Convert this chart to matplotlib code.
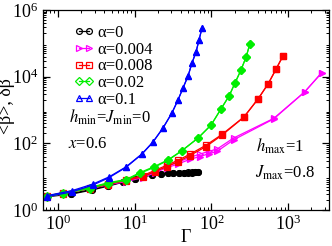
import numpy as np
import matplotlib
matplotlib.use("Agg")
import matplotlib.pyplot as plt
from matplotlib.ticker import LogLocator, NullFormatter

plt.rcParams['font.family'] = ['Liberation Serif', 'DejaVu Serif']
plt.rcParams['mathtext.fontset'] = 'stix'

# -------------------------------
# DATA
# -------------------------------
labels = ["α=0", "α=0.004", "α=0.008", "α=0.02", "α=0.1"]
colors = ["black", "#ff00ff", "#ff0000", "#00ee00", "#0000ff"]
markers = ["o", ">", "s", "D", "^"]

gamma_a0 = [0.72, 1.5, 2.8, 4.5, 7.0, 10, 13, 17, 22, 27, 32, 38, 44, 50, 56, 62, 67]
mean_a0 = [2.6, 3.1, 4.2, 5.4, 7.0, 8.8, 10.2, 11.4, 12.2, 12.7, 13.0, 13.2, 13.3, 13.4, 13.4, 13.5, 13.5]
delta_a0 = [2.5, 3.0, 4.0, 5.2, 6.8, 8.6, 10.0, 11.2, 12.0, 12.6, 12.9, 13.1, 13.2, 13.3, 13.3, 13.4, 13.4]

gamma_a1 = [0.72, 1.16, 2.6, 4.5, 7.7, 12.8, 18.4, 26.2, 36.6, 52.3, 70, 93, 118, 195, 647, 1640, 2720]
mean_a1 = [2.6, 3.3, 4.7, 6.1, 7.6, 10.2, 14.5, 20.5, 27, 38, 47, 58, 67, 145, 560, 3500, 13000]
delta_a1 = [2.5, 3.1, 4.4, 5.7, 7.1, 9.4, 13.2, 18.5, 24, 33, 40, 49, 57, 128, 540, 3500, 13000]

gamma_a2 = [0.72, 1.16, 2.6, 4.5, 7.7, 12.8, 18.4, 26.2, 36.6, 52.3, 85, 137, 265, 405, 548, 696, 855]
mean_a2 = [2.6, 3.3, 4.7, 6.2, 8.1, 10.8, 15.5, 22, 31, 47, 88, 185, 620, 2150, 6100, 17000, 42000]
delta_a2 = [2.5, 3.1, 4.4, 5.8, 7.6, 10.0, 14.2, 20, 28, 43, 80, 175, 610, 2150, 6100, 17000, 42000]

gamma_a3 = [0.72, 1.16, 2.6, 4.5, 7.7, 11.7, 17.9, 27.2, 41, 67, 99, 133, 170, 203, 243, 283, 317]
mean_a3 = [2.6, 3.3, 4.7, 6.6, 8.2, 13.2, 20, 32, 60, 145, 355, 1070, 2650, 6500, 16000, 39000, 97000]
delta_a3 = [2.5, 3.1, 4.4, 6.2, 7.8, 12.5, 19, 31, 59, 144, 355, 1070, 2650, 6500, 16000, 39000, 97000]

gamma_a4 = [0.72, 1.52, 2.86, 4.62, 7.7, 12.4, 17.3, 23.4, 30.6, 36.7, 42.7, 49.6, 55.9, 63, 68.9, 75.4]
mean_a4 = [2.7, 3.8, 6.0, 9.8, 19.6, 48, 110, 290, 820, 2000, 4600, 10500, 26000, 55000, 126000, 290000]
delta_a4 = [2.5, 3.5, 5.6, 9.3, 19, 47, 108, 288, 815, 2000, 4600, 10500, 26000, 55000, 126000, 290000]

gammas = [gamma_a0, gamma_a1, gamma_a2, gamma_a3, gamma_a4]
means = [mean_a0, mean_a1, mean_a2, mean_a3, mean_a4]
deltas = [delta_a0, delta_a1, delta_a2, delta_a3, delta_a4]

# -------------------------------
# PLOT
# -------------------------------
fig = plt.figure(figsize=(3.32, 2.46), dpi=100)
ax = fig.add_axes([0.1295, 0.1463, 0.8615, 0.8130])

for g, m, d, c, mk, lab in zip(gammas, means, deltas, colors, markers, labels):
    ms = 3.6 if mk == "D" else 4.2
    if mk in ("^", ">"):
        ms = 5.0
    ax.plot(g, m, color=c, marker=mk, ms=ms, mfc="none", mew=0.9, lw=0.9, label=lab)
    ax.plot(g, d, color=c, marker=mk, ms=ms, mfc=c, mew=0.9, lw=0.9)

ax.set_xscale("log")
ax.set_yscale("log")
ax.set_xlim(0.64, 3400)
ax.set_ylim(1, 1e6)

for axis in (ax.xaxis, ax.yaxis):
    axis.set_minor_locator(LogLocator(base=10, subs=np.arange(2, 10), numticks=20))
    axis.set_minor_formatter(NullFormatter())
ax.tick_params(which="both", direction="in", top=True, right=True, labelsize=13)
ax.tick_params(which="major", length=5, width=0.9)
ax.tick_params(which="minor", length=2.5, width=0.7)
for sp in ax.spines.values():
    sp.set_linewidth(0.9)

ax.set_xlabel("Γ", fontsize=13, labelpad=-4)
fig.text(0.021, 0.57, "<β>, δβ", rotation=90, ha="center", va="center", fontsize=13)

leg = ax.legend(loc="upper left", bbox_to_anchor=(0.085, 0.96), frameon=False, fontsize=12,
                numpoints=2, handlelength=1.2, handletextpad=0.2, labelspacing=0.05,
                borderaxespad=0)

ax.text(0.091, 0.435, r"$h_{\rm min}$=$J_{\rm min}$=0", transform=ax.transAxes, fontsize=12)
ax.text(0.087, 0.31, r"$x$=0.6", transform=ax.transAxes, fontsize=12)
ax.text(0.745, 0.29, r"$h_{\rm max}$=1", transform=ax.transAxes, fontsize=12)
ax.text(0.741, 0.16, r"$J_{\rm max}$=0.8", transform=ax.transAxes, fontsize=12)

fig.savefig("out.png", dpi=100)
